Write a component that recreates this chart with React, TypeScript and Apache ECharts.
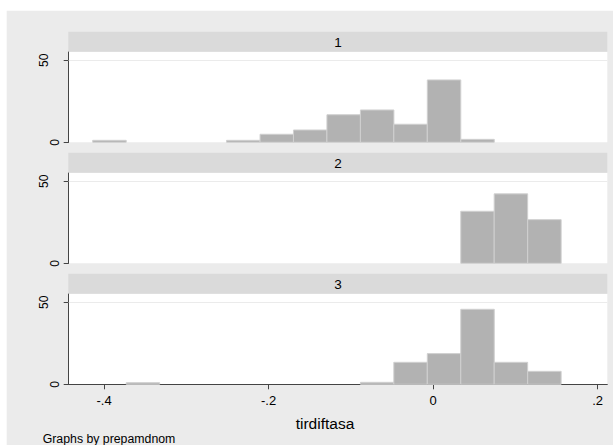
import React, { useEffect, useRef } from "react";
import * as echarts from "echarts";

// ---- data ----
const panelLabels = ["1", "2", "3"];
const binWidth = 0.0407;
const panel1Lefts = [-0.4138, -0.2511, -0.2104, -0.1698, -0.1291, -0.0884, -0.0478, -0.0071, 0.0336];
const panel1Heights = [1.2, 1.2, 4.9, 7.5, 16.8, 19.7, 11.0, 38.0, 1.8];
const panel2Lefts = [0.0336, 0.0742, 0.1149];
const panel2Heights = [31.7, 42.3, 26.6];
const panel3Lefts = [-0.3731, -0.0884, -0.0478, -0.0071, 0.0336, 0.0742, 0.1149];
const panel3Heights = [1.0, 1.2, 13.4, 18.7, 45.7, 13.4, 7.9];
const xTicks = [-0.4, -0.2, 0, 0.2];
const xTickLabels = ["-.4", "-.2", "0", ".2"];
const yTicks = [0, 50];
const xTitle = "tirdiftasa";
const noteText = "Graphs by prepamdnom";

const panelLefts = [panel1Lefts, panel2Lefts, panel3Lefts];
const panelHeights = [panel1Heights, panel2Heights, panel3Heights];

const X_MIN = -0.443;
const X_MAX = 0.2117;
const Y_MAX = 55.2;

const FONT = "'Liberation Sans', Arial, sans-serif";

export default function App() {
  const ref = useRef<HTMLDivElement>(null);

  useEffect(() => {
    if (!ref.current) return;
    const chart = echarts.init(ref.current, undefined, { renderer: "svg" });

    const gridLeft = 68.7;
    const gridWidth = 538.6;
    const gridH = 90.6;
    const stride = 121;
    const firstTop = 51.7;

    const grids: any[] = [];
    const xAxes: any[] = [];
    const yAxes: any[] = [];
    const series: any[] = [];
    const graphics: any[] = [
      {
        type: "rect",
        z: -10,
        shape: { x: 6.7, y: 10.7, width: 613 - 6.7, height: 445 - 10.7 },
        style: { fill: "#ebebeb" },
        silent: true,
      },
    ];

    panelLabels.forEach((lab, i) => {
      const top = firstTop + stride * i;
      grids.push({
        left: gridLeft,
        top,
        width: gridWidth,
        height: gridH,
        show: true,
        backgroundColor: "#ffffff",
        borderWidth: 0,
        containLabel: false,
      });
      const isLast = i === panelLabels.length - 1;
      xAxes.push({
        type: "value",
        gridIndex: i,
        min: X_MIN,
        max: X_MAX,
        splitLine: { show: false },
        axisLine: { show: isLast, onZero: false, lineStyle: { color: "#444", width: 1 } },
        axisTick: { show: isLast, customValues: xTicks, length: 5, lineStyle: { color: "#444", width: 1 } },
        axisLabel: {
          show: isLast,
          customValues: xTicks,
          margin: 10,
          fontSize: 13,
          fontFamily: FONT,
          color: "#000",
          formatter: (v: number) => {
            const k = xTicks.findIndex((t) => Math.abs(t - v) < 1e-9);
            return k >= 0 ? xTickLabels[k] : "";
          },
        },
        name: isLast ? xTitle : "",
        nameLocation: "middle",
        nameGap: 31,
        nameTextStyle: { fontSize: 15.5, fontFamily: FONT, color: "#000", padding: [0, 26, 0, 0] },
      });
      yAxes.push({
        type: "value",
        gridIndex: i,
        min: 0,
        max: Y_MAX,
        splitLine: { show: false },
        axisLine: { show: true, onZero: false, lineStyle: { color: "#444", width: 1 } },
        axisTick: { show: true, customValues: yTicks, length: 5, lineStyle: { color: "#444", width: 1 } },
        axisLabel: {
          show: true,
          customValues: yTicks,
          rotate: 90,
          margin: 7.7,
          fontSize: 12,
          fontFamily: FONT,
          color: "#000",
          formatter: (v: number) => (v === 50 ? "{p|50}" : "{q|" + v + "}"),
          rich: {
            p: { fontSize: 12, fontFamily: FONT, color: "#000", padding: [0, 0, 11.5, 0] },
            q: { fontSize: 12, fontFamily: FONT, color: "#000" },
          },
        },
      });
      const lefts = panelLefts[i];
      const hs = panelHeights[i];
      series.push({
        type: "custom",
        xAxisIndex: i,
        yAxisIndex: i,
        encode: { x: [0, 1], y: 2 },
        data: lefts.map((l, j) => [l, l + binWidth, hs[j]]),
        renderItem: (_params: any, api: any) => {
          const p0 = api.coord([api.value(0), api.value(2)]);
          const p1 = api.coord([api.value(1), 0]);
          return {
            type: "rect",
            shape: { x: p0[0], y: p0[1], width: p1[0] - p0[0], height: p1[1] - p0[1] },
            style: { fill: "#b2b2b2", stroke: "#d0d0d0", lineWidth: 1 },
          };
        },
        markLine: {
          silent: true,
          symbol: "none",
          label: { show: false },
          lineStyle: { color: "#ebebeb", width: 1, type: "solid" },
          data: [{ yAxis: 50 }],
          z: 1,
        },
      });
      const stripTop = 31.7 + stride * i;
      graphics.push({
        type: "rect",
        z: 5,
        silent: true,
        shape: { x: 68.3, y: stripTop, width: 539, height: 20 },
        style: { fill: "#dadada" },
      });
      graphics.push({
        type: "text",
        z: 6,
        silent: true,
        x: 338,
        y: stripTop + 10.3,
        style: {
          text: lab,
          fontSize: 13.5,
          fontFamily: FONT,
          fill: "#000",
          align: "center",
          verticalAlign: "middle",
        },
      });
    });

    graphics.push({
      type: "text",
      z: 6,
      silent: true,
      x: 42.7,
      y: 438.5,
      style: {
        text: noteText,
        fontSize: 12.3,
        fontFamily: FONT,
        fill: "#000",
        align: "left",
        verticalAlign: "middle",
      },
    });

    chart.setOption({
      animation: false,
      backgroundColor: "#ffffff",
      grid: grids,
      xAxis: xAxes,
      yAxis: yAxes,
      series,
      graphic: graphics,
    });

    return () => chart.dispose();
  }, []);

  return (
    <div
      ref={ref}
      style={{ position: "absolute", left: 0, top: 0, width: 613, height: 445 }}
    />
  );
}
